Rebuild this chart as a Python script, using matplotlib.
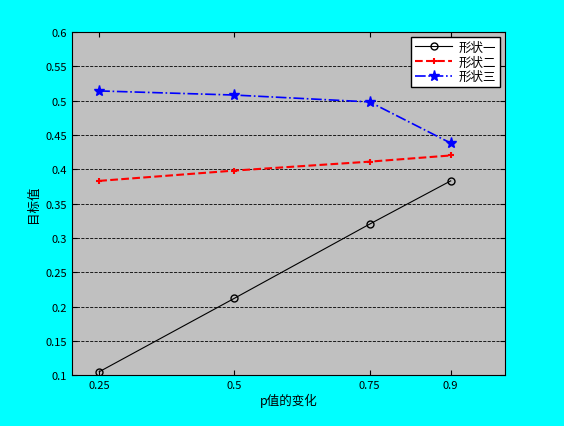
import matplotlib
matplotlib.use("Agg")
import matplotlib.pyplot as plt

plt.rcParams['font.family'] = ['Noto Sans CJK SC', 'DejaVu Sans']

p_values = [0.25, 0.5, 0.75, 0.9]
shape1 = [0.105, 0.212, 0.320, 0.383]
shape2 = [0.383, 0.398, 0.411, 0.420]
shape3 = [0.514, 0.508, 0.498, 0.438]
yticks = [0.1, 0.15, 0.2, 0.25, 0.3, 0.35, 0.4, 0.45, 0.5, 0.55, 0.6]
ytick_labels = ['0.1', '0.15', '0.2', '0.25', '0.3', '0.35', '0.4', '0.45', '0.5', '0.55', '0.6']
xtick_labels = ['0.25', '0.5', '0.75', '0.9']

fig = plt.figure(figsize=(5.64, 4.27), dpi=100, facecolor='#00FFFF')
ax = fig.add_axes([0.128, 0.119, 0.767, 0.804], facecolor='#C0C0C0')

ax.plot(p_values, shape1, color='black', lw=0.8, marker='o', mfc='none', ms=5, label='形状一')
ax.plot(p_values, shape2, color='red', lw=1.5, ls='--', marker='+', ms=5, mew=1.5, label='形状二')
ax.plot(p_values, shape3, color='blue', lw=1.2, ls='-.', marker='*', ms=8, label='形状三')

ax.set_xlim(0.2, 1.0)
ax.set_ylim(0.1, 0.6)
ax.set_xticks(p_values)
ax.set_xticklabels(xtick_labels)
ax.set_yticks(yticks)
ax.set_yticklabels(ytick_labels)
ax.tick_params(direction='in', labelsize=8, top=True, right=True)
ax.yaxis.grid(True, color='black', ls='--', lw=0.6)
ax.set_axisbelow(True)
ax.set_xlabel('p值的变化', fontsize=9, labelpad=2)
ax.set_ylabel('目标值', fontsize=9)
leg = ax.legend(loc='upper right', fontsize=9, fancybox=False, framealpha=1, edgecolor='black',
                borderaxespad=0.4, handlelength=3.0, labelspacing=0.15, borderpad=0.3,
                handletextpad=0.5)
leg.get_frame().set_facecolor('white')

fig.savefig('out.png', dpi=100, facecolor=fig.get_facecolor())
